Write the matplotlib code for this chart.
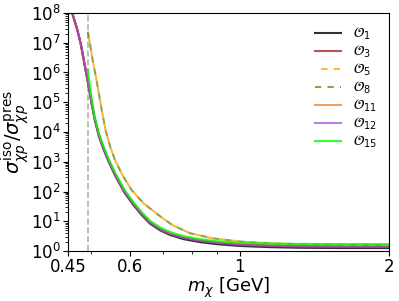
import matplotlib
matplotlib.use("Agg")
import numpy as np
import matplotlib.pyplot as plt
from matplotlib.ticker import FixedLocator, FixedFormatter, NullFormatter, LogLocator

# masses (GeV) and log10 of the cross-section ratio
m_low = [0.4606, 0.47, 0.478, 0.486, 0.4938, 0.502, 0.510, 0.52, 0.53, 0.542, 0.56, 0.586,
         0.61, 0.634, 0.659, 0.69, 0.723, 0.77, 0.831, 0.9, 1.0, 1.15, 1.32, 1.6, 2.0]
lg_O1 = [7.93, 7.45, 6.95, 6.30, 5.68, 5.00, 4.40, 3.85, 3.46, 3.06, 2.55, 1.95,
         1.55, 1.21, 0.92, 0.70, 0.54, 0.40, 0.30, 0.23, 0.17, 0.13, 0.11, 0.10, 0.10]
lg_O3 = [7.93, 7.45, 6.96, 6.32, 5.71, 5.04, 4.44, 3.90, 3.51, 3.11, 2.60, 2.00,
         1.60, 1.26, 0.97, 0.75, 0.59, 0.46, 0.36, 0.29, 0.23, 0.19, 0.17, 0.155, 0.15]
lg_O11 = [7.92, 7.44, 6.95, 6.31, 5.70, 5.03, 4.43, 3.89, 3.50, 3.10, 2.59, 1.99,
          1.59, 1.25, 0.96, 0.74, 0.58, 0.45, 0.35, 0.28, 0.22, 0.18, 0.16, 0.15, 0.145]
lg_O12 = [7.92, 7.44, 6.94, 6.30, 5.69, 5.02, 4.42, 3.87, 3.48, 3.08, 2.57, 1.98,
          1.58, 1.24, 0.95, 0.73, 0.57, 0.44, 0.34, 0.27, 0.21, 0.17, 0.15, 0.14, 0.14]

m_kaon = [0.4938, 0.502, 0.510, 0.52, 0.53, 0.542, 0.56, 0.586, 0.61, 0.634, 0.659, 0.69,
          0.723, 0.77, 0.831, 0.9, 1.0, 1.15, 1.32, 1.6, 2.0]
lg_O15 = [6.08, 5.20, 4.50, 3.95, 3.56, 3.15, 2.65, 2.05, 1.65, 1.31, 1.02, 0.80,
          0.64, 0.50, 0.40, 0.33, 0.28, 0.25, 0.24, 0.235, 0.235]

m_dash = [0.4938, 0.50, 0.505, 0.514, 0.525, 0.536, 0.548, 0.560, 0.58, 0.605, 0.64,
          0.684, 0.73, 0.793, 0.88, 1.0, 1.15, 1.32, 1.6, 2.0]
lg_O5 = [7.37, 6.85, 6.42, 5.75, 4.87, 4.07, 3.50, 3.06, 2.55, 2.05, 1.60,
         1.22, 0.88, 0.60, 0.43, 0.32, 0.26, 0.23, 0.21, 0.20]
lg_O8 = [7.37, 6.85, 6.42, 5.75, 4.87, 4.07, 3.50, 3.06, 2.55, 2.05, 1.60,
         1.22, 0.88, 0.60, 0.43, 0.32, 0.26, 0.23, 0.21, 0.20]

m_threshold = 0.4937

fig = plt.figure(figsize=(3.99, 3.01), dpi=100)
ax = fig.add_axes([0.170, 0.166, 0.805, 0.791])

ax.axvline(m_threshold, color='gray', ls='--', lw=1.2, alpha=0.6)

a = 0.8
ax.plot(m_low, 10 ** np.array(lg_O1), color='black', lw=1.5, alpha=a, label=r'$\mathcal{O}_1$')
ax.plot(m_low, 10 ** np.array(lg_O3), color='brown', lw=1.5, alpha=a, label=r'$\mathcal{O}_3$')
ax.plot(m_dash, 10 ** np.array(lg_O5), color='orange', lw=1.5, alpha=a, ls=(3, (3, 3)),
        label=r'$\mathcal{O}_5$')
ax.plot(m_dash, 10 ** np.array(lg_O8), color='olivedrab', lw=1.5, alpha=a, ls=(0, (3, 3)),
        label=r'$\mathcal{O}_8$')
ax.plot(m_low, 10 ** np.array(lg_O11), color='#e8893f', lw=1.5, alpha=a, label=r'$\mathcal{O}_{11}$')
ax.plot(m_low, 10 ** np.array(lg_O12), color='blueviolet', lw=1.5, alpha=0.6, label=r'$\mathcal{O}_{12}$')
ax.plot(m_kaon, 10 ** np.array(lg_O15), color='lime', lw=1.5, alpha=a, label=r'$\mathcal{O}_{15}$')

ax.set_xscale('log')
ax.set_yscale('log')
ax.set_xlim(0.45, 2)
ax.set_ylim(1, 1e8)

ax.xaxis.set_major_locator(FixedLocator([0.45, 0.6, 1, 2]))
ax.xaxis.set_major_formatter(FixedFormatter(['0.45', '0.6', '1', '2']))
ax.xaxis.set_minor_locator(FixedLocator([0.5, 0.7, 0.8, 0.9]))
ax.xaxis.set_minor_formatter(NullFormatter())
ax.yaxis.set_major_locator(LogLocator(base=10, numticks=20))
ax.yaxis.set_minor_locator(LogLocator(base=10, subs=range(2, 10), numticks=20))
ax.yaxis.set_minor_formatter(NullFormatter())
ax.tick_params(labelsize=12, pad=1.5)

ax.set_xlabel(r'$m_\chi$ [GeV]', fontsize=13, labelpad=0)
ax.set_ylabel(r'$\sigma^{\rm iso}_{\chi p}/\sigma^{\rm pres}_{\chi p}$', fontsize=14, labelpad=0)

ax.legend(loc='upper right', frameon=False, fontsize=10, handlelength=1.9,
          labelspacing=0.12, borderaxespad=0.5, handletextpad=0.8)

fig.savefig('out.png', dpi=100)
